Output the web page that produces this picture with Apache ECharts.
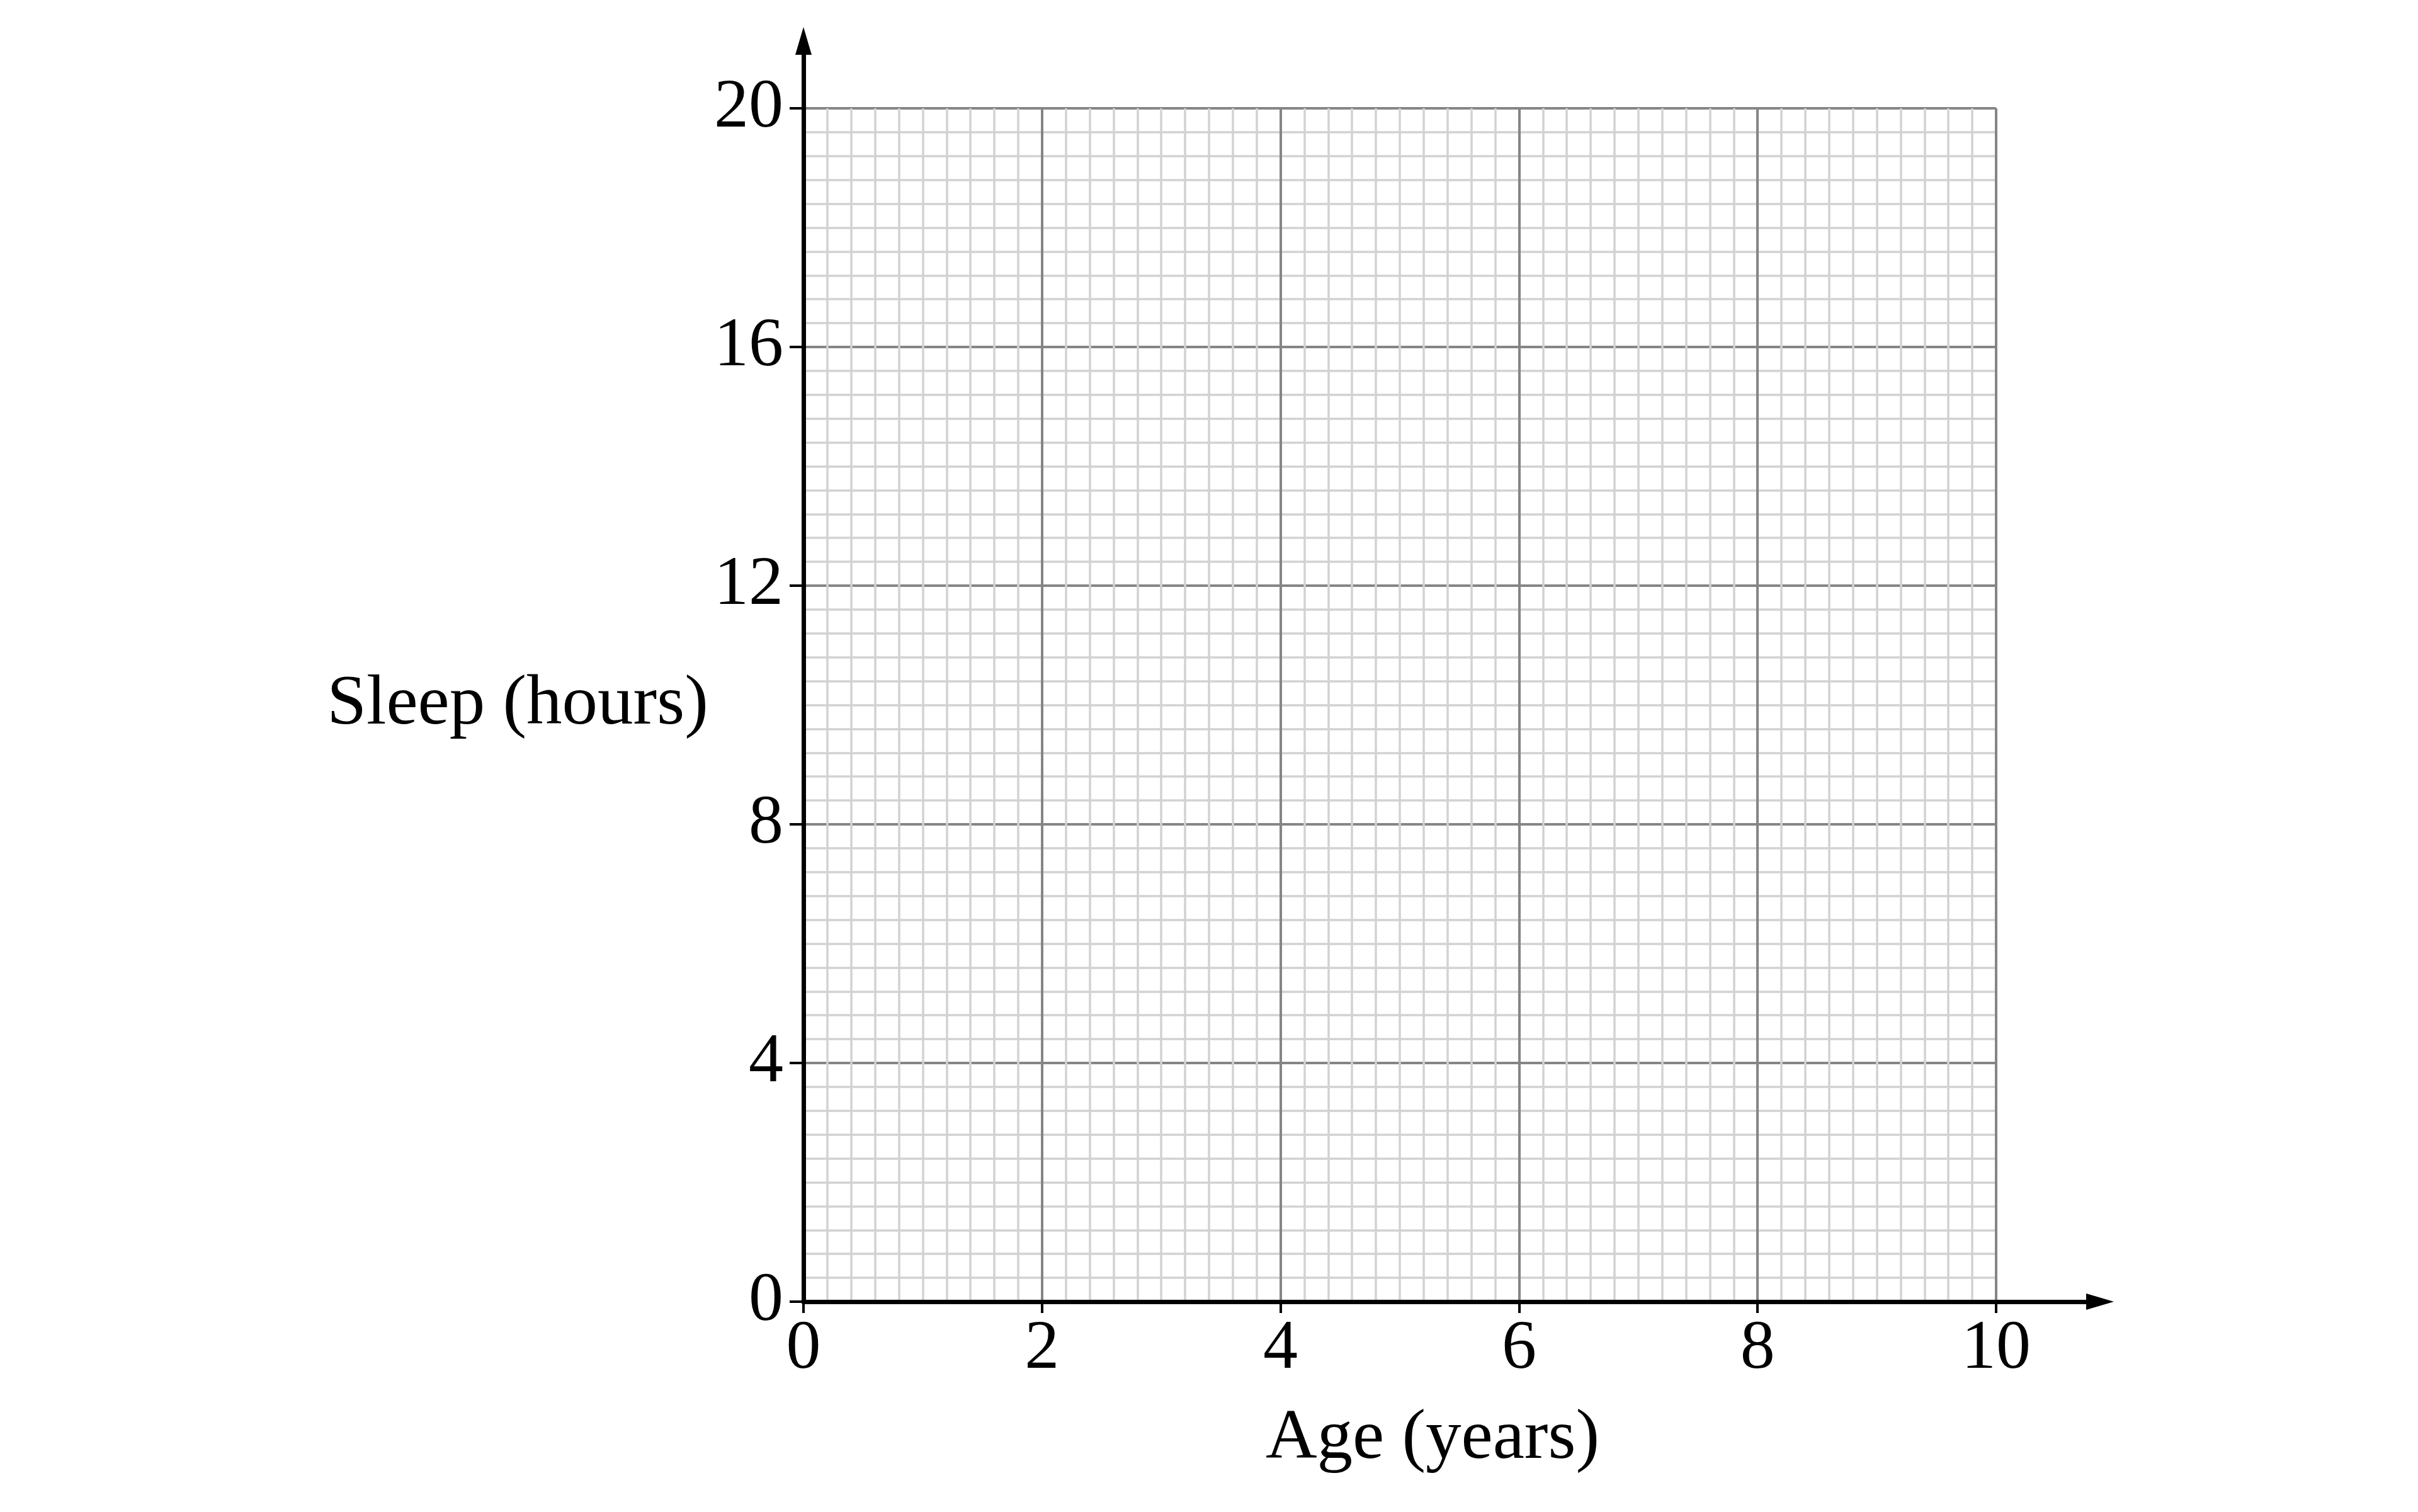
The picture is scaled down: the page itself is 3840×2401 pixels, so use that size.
<!DOCTYPE html>
<html>
<head>
<meta charset="utf-8">
<style>
  html, body { margin: 0; padding: 0; background: #ffffff; }
  #chart { width: 3840px; height: 2401px; }
</style>
<script src="https://cdn.jsdelivr.net/npm/echarts@6/dist/echarts.min.js"></script>
</head>
<body>
<div id="chart"></div>
<script>
// ---- data ----
const xTicks = [0, 2, 4, 6, 8, 10];
const yTicks = [0, 4, 8, 12, 16, 20];
const xName = 'Age (years)';
const yName = 'Sleep (hours)';
const points = []; // the graph paper carries no plotted points

// ---- styles ----
const FONT = 'Liberation Serif';
const MAJOR = '#858585';
const MINOR = '#d2d2d2';

const chart = echarts.init(document.getElementById('chart'), null, { renderer: 'canvas', devicePixelRatio: 1 });

const option = {
  backgroundColor: '#ffffff',
  animation: false,
  grid: [
    { left: 1276, right: 670, top: 172, bottom: 334, containLabel: false },
    { left: 1276, right: 505, top: 65, bottom: 334, containLabel: false }
  ],
  xAxis: [
    {
      type: 'value', gridIndex: 0,
      min: xTicks[0], max: xTicks[xTicks.length - 1], interval: xTicks[1] - xTicks[0],
      name: xName, nameLocation: 'middle', nameGap: 162,
      nameTextStyle: { fontFamily: FONT, fontSize: 113, color: '#000', padding: [0, 0, 0, 104] },
      axisLine: { show: false },
      axisTick: { show: true, inside: false, length: 18, lineStyle: { color: '#000', width: 4 } },
      axisLabel: { show: true, margin: 21, fontFamily: FONT, fontSize: 110, color: '#000' },
      splitLine: { show: true, lineStyle: { color: MAJOR, width: 4 } },
      minorTick: { show: false, splitNumber: 10 },
      minorSplitLine: { show: true, lineStyle: { color: MINOR, width: 3.5 } }
    },
    {
      type: 'value', gridIndex: 1, min: 0, max: 1, z: 5,
      axisLine: { show: true, symbol: ['none', 'triangle'], symbolSize: [26, 44],
        lineStyle: { color: '#000', width: 7 } },
      axisTick: { show: false }, axisLabel: { show: false },
      splitLine: { show: false }
    }
  ],
  yAxis: [
    {
      type: 'value', gridIndex: 0,
      min: yTicks[0], max: yTicks[yTicks.length - 1], interval: yTicks[1] - yTicks[0],
      name: yName, nameLocation: 'middle', nameRotate: 0, nameGap: 454,
      nameTextStyle: { fontFamily: FONT, fontSize: 113, color: '#000', align: 'center',
        verticalAlign: 'middle', padding: [0, 0, 78, 0] },
      axisLine: { show: false },
      axisTick: { show: true, inside: false, length: 22, lineStyle: { color: '#000', width: 4 } },
      axisLabel: { show: true, margin: 32, fontFamily: FONT, fontSize: 110, color: '#000' },
      splitLine: { show: true, lineStyle: { color: MAJOR, width: 4 } },
      minorTick: { show: false, splitNumber: 10 },
      minorSplitLine: { show: true, lineStyle: { color: MINOR, width: 3.5 } }
    },
    {
      type: 'value', gridIndex: 1, min: 0, max: 1, z: 5,
      axisLine: { show: true, symbol: ['none', 'triangle'], symbolSize: [26, 44],
        lineStyle: { color: '#000', width: 7 } },
      axisTick: { show: false }, axisLabel: { show: false },
      splitLine: { show: false }
    }
  ],
  series: [
    { type: 'scatter', xAxisIndex: 0, yAxisIndex: 0, data: points, symbolSize: 0 },
    { type: 'scatter', xAxisIndex: 1, yAxisIndex: 1, data: [], symbolSize: 0 }
  ]
};

chart.setOption(option);
</script>
</body>
</html>
